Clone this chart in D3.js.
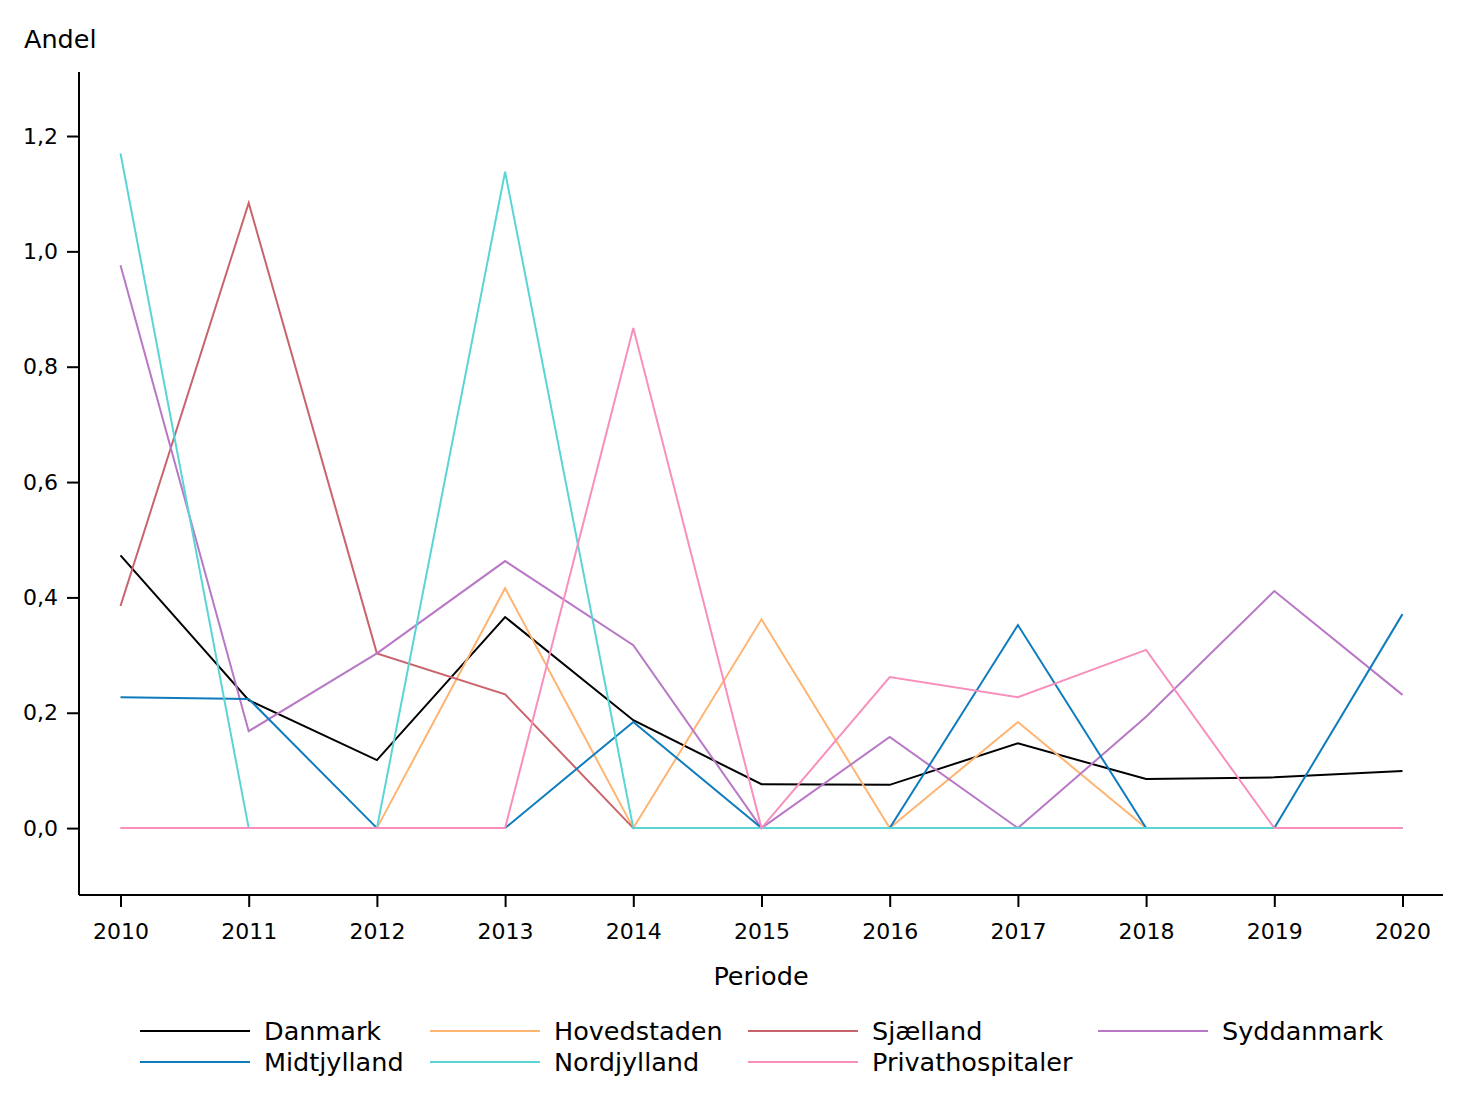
<!DOCTYPE html>
<html>
<head>
<meta charset="utf-8">
<script src="https://cdn.jsdelivr.net/npm/d3@7"></script>
<style>
  body { margin: 0; background: #fff; }
  text { font-family: "DejaVu Sans", sans-serif; }
</style>
</head>
<body>
<script>
// data
const years = [2010, 2011, 2012, 2013, 2014, 2015, 2016, 2017, 2018, 2019, 2020];
const danmark = [0.473, 0.222, 0.118, 0.366, 0.187, 0.076, 0.075, 0.147, 0.085, 0.088, 0.099];
const hovedstaden = [0, 0, 0, 0.416, 0, 0.362, 0, 0.184, 0, 0, 0];
const midtjylland = [0.227, 0.224, 0, 0, 0.184, 0, 0, 0.352, 0, 0, 0.371];
const nordjylland = [1.17, 0, 0, 1.138, 0, 0, 0, 0, 0, 0, 0];
const privathospitaler = [0, 0, 0, 0, 0.867, 0, 0.262, 0.227, 0.309, 0, 0];
const sjaelland = [0.385, 1.084, 0.303, 0.232, 0, 0, 0, 0, 0, 0, 0];
const syddanmark = [0.976, 0.168, 0.303, 0.463, 0.317, 0, 0.158, 0, 0.193, 0.411, 0.231];
const yTicks = [0, 0.2, 0.4, 0.6, 0.8, 1.0, 1.2];

// draw order (last on top)
const series = [
    {name: "Danmark", values: danmark, color: "#000000"},
    {name: "Hovedstaden", values: hovedstaden, color: "#ffb572"},
    {name: "Sjælland", values: sjaelland, color: "#c9646c"},
    {name: "Syddanmark", values: syddanmark, color: "#b878c6"},
    {name: "Midtjylland", values: midtjylland, color: "#0e7cbd"},
    {name: "Nordjylland", values: nordjylland, color: "#5ad5d6"},
    {name: "Privathospitaler", values: privathospitaler, color: "#f88fbc"}
];
// legend order (row by row)
const legendOrder = ["Danmark", "Hovedstaden", "Sjælland", "Syddanmark",
                     "Midtjylland", "Nordjylland", "Privathospitaler"];

const width = 1467
const height = 1100
const mLeft = 79, mRight = 1443, mTop = 72, mBottom = 895;

const svg = d3.select("body").append("svg")
    .attr("width", width)
    .attr("height", height);

const x = d3.scaleLinear()
    .domain([2010, 2020])
    .range([120.5, 1402.5]);

const y = d3.scaleLinear()
    .domain([-0.116, 1.311])
    .range([mBottom, mTop]);

const line = d3.line()
    .x((d, i) => x(years[i]))
    .y(d => y(d));

svg.append("g")
    .selectAll("path")
    .data(series)
    .join("path")
    .attr("fill", "none")
    .attr("stroke", d => d.color)
    .attr("stroke-width", 2)
    .attr("stroke-linejoin", "miter")
    .attr("d", d => line(d.values));

// axes
const xAxis = svg.append("g")
    .attr("transform", `translate(0,${mBottom})`)
    .call(d3.axisBottom(x).tickValues(years).tickFormat(d3.format("d")).tickSize(12).tickPadding(11).tickSizeOuter(0));
xAxis.select(".domain").attr("d", `M${mLeft},0H${mRight}`);

const yAxis = svg.append("g")
    .attr("transform", `translate(${mLeft},0)`)
    .call(d3.axisLeft(y).tickValues(yTicks).tickFormat(d => d3.format(".1f")(d).replace(".", ",")).tickSize(12).tickPadding(9).tickSizeOuter(0));
yAxis.select(".domain").attr("d", `M0,${mTop}V${mBottom}`);

svg.selectAll(".domain").attr("stroke", "#000").attr("stroke-width", 2);
svg.selectAll(".tick line").attr("stroke", "#000").attr("stroke-width", 2);
svg.selectAll(".tick text")
    .attr("fill", "#000")
    .style("font-family", "DejaVu Sans, sans-serif")
    .style("font-size", "22px");
xAxis.selectAll(".tick text").attr("dy", "0.95em");

svg.append("text")
    .attr("x", 24)
    .attr("y", 48)
    .attr("font-size", 25.5)
    .text("Andel");

svg.append("text")
    .attr("x", (mLeft + mRight) / 2)
    .attr("y", 985)
    .attr("text-anchor", "middle")
    .attr("font-size", 25.5)
    .text("Periode");

// legend
const colX = [140, 430, 748, 1098];
const rowY = [1031, 1062];
const legend = svg.append("g")
    .selectAll("g")
    .data(legendOrder.map(n => series.find(s => s.name === n)))
    .join("g")
    .attr("transform", (d, i) => `translate(${colX[i % 4]},${rowY[Math.floor(i / 4)]})`);

legend.append("line")
    .attr("x1", 0).attr("x2", 110)
    .attr("stroke", d => d.color)
    .attr("stroke-width", 2);

legend.append("text")
    .attr("x", 124)
    .attr("dy", "0.35em")
    .attr("font-size", 25.5)
    .text(d => d.name);
</script>
</body>
</html>
